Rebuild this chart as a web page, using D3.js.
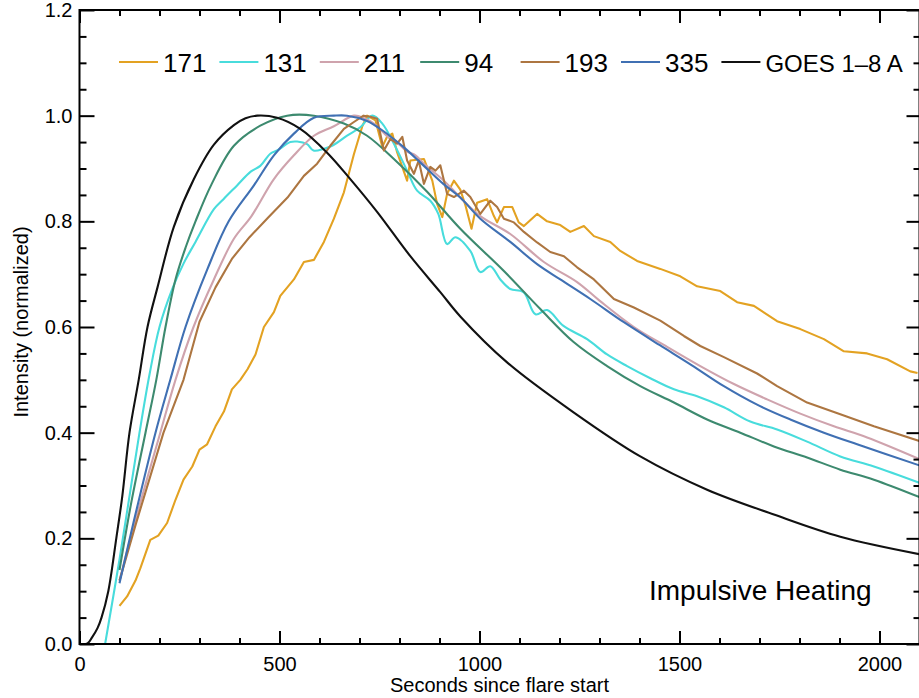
<!DOCTYPE html>
<html>
<head>
<meta charset="utf-8">
<script src="https://cdn.jsdelivr.net/npm/d3@7"></script>
<style>
  body { margin: 0; background: #fff; }
  svg { display: block; font-family: "Liberation Sans", Arial, Helvetica, sans-serif; }
</style>
</head>
<body>
<svg id="chart" width="919" height="698"></svg>
<script>
// Light curves, [seconds since flare start, normalized intensity]
const s171 = [[100,.072],[119,.09],[140,.12],[152,.143],[177,.197],[197,.205],[219,.229],[240,.273],[260,.311],[282,.336],
  [300,.368],[319,.378],[340,.412],[361,.44],[381,.482],[402,.50],[420,.52],[440,.548],[461,.60],[486,.628],
  [502,.659],[536,.69],[561,.723],[586,.727],[611,.761],[636,.805],[661,.855],[686,.927],[707,.98],[719,1.0],
  [740,.991],[757,.941],[769,.96],[782,.966],[794,.931],[819,.877],[827,.915],[861,.918],[882,.877],[894,.833],
  [907,.808],[919,.852],[936,.877],[952,.86],[965,.83],[980,.786],[994,.835],[1019,.842],[1036,.81],[1044,.798],
  [1061,.827],[1082,.827],[1098,.798],[1111,.791],[1144,.814],[1169,.80],[1202,.793],[1227,.78],[1261,.791],[1286,.772],
  [1327,.761],[1352,.744],[1394,.725],[1452,.71],[1502,.696],[1544,.677],[1602,.668],[1644,.647],[1686,.64],[1744,.611],
  [1802,.596],[1861,.577],[1911,.554],[1969,.55],[2019,.539],[2077,.516],[2095,.513]];

const s131 = [[64,0],[100,.16],[125,.28],[150,.40],[175,.51],[200,.60],[232,.672],[260,.72],[290,.761],[336,.823],
  [360,.842],[394,.868],[428,.894],[452,.905],[477,.928],[494,.934],[527,.95],[544,.951],[569,.946],[585,.934],
  [610,.937],[634,.944],[669,.962],[702,.978],[732,1.0],[757,.985],[786,.947],[819,.896],[844,.858],[877,.839],
  [897,.814],[919,.757],[940,.77],[977,.744],[1002,.704],[1027,.715],[1052,.69],[1077,.672],[1110,.666],[1140,.624],
  [1169,.632],[1210,.602],[1269,.577],[1319,.548],[1369,.526],[1427,.503],[1486,.482],[1544,.469],[1611,.448],[1677,.421],
  [1744,.406],[1819,.383],[1902,.355],[1986,.336],[2100,.305]];

const s211 = [[100,.12],[140,.235],[202,.40],[240,.5],[285,.60],[336,.69],[386,.767],[430,.81],[486,.88],[536,.925],
  [586,.962],[636,.98],[686,1.0],[712,.995],[736,.985],[757,.97],[777,.956],[800,.945],[819,.932],[840,.925],
  [861,.909],[911,.877],[952,.845],[1002,.81],[1077,.776],[1161,.723],[1244,.685],[1300,.65],[1386,.60],[1470,.562],
  [1552,.526],[1636,.492],[1719,.463],[1802,.436],[1886,.412],[1969,.391],[2100,.35]];

const s94 = [[100,.14],[130,.27],[165,.40],[192,.5],[215,.6],[240,.69],[265,.75],[290,.80],[330,.87],[386,.943],
  [452,.981],[519,1.0],[586,1.0],[661,.985],[719,.962],[786,.918],[869,.856],[952,.786],[1061,.706],[1152,.634],
  [1236,.571],[1319,.526],[1402,.488],[1486,.457],[1569,.425],[1652,.40],[1736,.374],[1819,.353],[1902,.33],[1986,.311],
  [2100,.278]];

const s193 = [[100,.12],[140,.225],[210,.40],[260,.5],[300,.61],[340,.675],[382,.73],[425,.77],[470,.806],[520,.845],
  [561,.886],[594,.909],[627,.943],[661,.975],[686,.988],[710,1.0],[727,.998],[744,.994],[761,.934],[777,.956],
  [794,.947],[807,.96],[819,.915],[836,.89],[848,.915],[861,.871],[877,.903],[890,.896],[902,.906],[919,.852],
  [936,.846],[961,.858],[977,.846],[1002,.814],[1027,.839],[1044,.827],[1061,.805],[1086,.798],[1111,.78],[1144,.76],
  [1177,.742],[1211,.734],[1244,.713],[1286,.69],[1336,.653],[1386,.637],[1452,.612],[1511,.583],[1552,.564],[1611,.543],
  [1694,.512],[1744,.488],[1819,.457],[1902,.435],[1986,.412],[2100,.384]];

const s335 = [[100,.115],[135,.23],[190,.40],[227,.5],[265,.60],[320,.71],[373,.80],[436,.868],[486,.925],[536,.966],
  [586,.996],[636,1.0],[669,1.0],[719,.99],[761,.97],[811,.94],[861,.905],[911,.87],[952,.845],[1002,.805],
  [1077,.761],[1144,.719],[1202,.69],[1277,.653],[1361,.609],[1450,.566],[1530,.528],[1611,.488],[1694,.453],[1777,.425],
  [1861,.40],[1944,.378],[2100,.338]];

const sGoes = [[0,0],[20,.001],[31,.012],[45,.03],[55,.05],[72,.10],[92,.2],[107,.28],[125,.40],[148,.5],
  [170,.6],[195,.675],[236,.79],[286,.88],[336,.945],[386,.982],[415,.995],[444,1.0],[494,.996],[552,.975],[619,.93],
  [677,.88],[744,.818],[827,.734],[902,.666],[952,.62],[1069,.533],[1236,.438],[1402,.355],[1569,.292],[1736,.245],
  [1902,.203],[2100,.17]];

const labels = ['171', '131', '211', '94', '193', '335', 'GOES 1\u20138 A'];
const seriesData = [s171, s131, s211, s94, s193, s335, sGoes];
const colors = ['#e3a222', '#48dcdc', '#cfa3ad', '#3d8a6f', '#ad7641', '#4070b3', '#111111'];
const smooth = [false, true, true, true, false, true, true];

const xMajor = [0, 500, 1000, 1500, 2000];
const yMajor = [0, 0.2, 0.4, 0.6, 0.8, 1.0, 1.2];

// Layout
const plotLeft = 79.5, plotRight = 919.5, plotTop = 10, plotBottom = 644;

const svg = d3.select('#chart');

const x = d3.scaleLinear().domain([0, 2100]).range([plotLeft, plotRight]);
const y = d3.scaleLinear().domain([0, 1.2]).range([plotBottom, plotTop]);

const xMinor = d3.range(0, 2101, 100).filter(v => v % 500 !== 0);
const yMinor = d3.range(0, 1.2001, 0.05).map(v => +v.toFixed(2)).filter(v => Math.round(v * 100) % 20 !== 0);

// Clip for curves
svg.append('clipPath').attr('id', 'plotClip')
  .append('rect')
  .attr('x', plotLeft).attr('y', plotTop)
  .attr('width', plotRight - plotLeft).attr('height', plotBottom - plotTop);

// Curves
const curves = svg.append('g').attr('clip-path', 'url(#plotClip)');
seriesData.forEach((data, i) => {
  const line = d3.line()
    .x(d => x(d[0]))
    .y(d => y(d[1]))
    .curve(smooth[i] ? d3.curveCatmullRom.alpha(0.5) : d3.curveLinear);
  curves.append('path')
    .datum(data)
    .attr('d', line)
    .attr('fill', 'none')
    .attr('stroke', colors[i])
    .attr('stroke-width', 2.1)
    .attr('stroke-linejoin', 'round');
});

// Axes (ticks point inward)
function styleAxis(g, fontSize) {
  g.select('.domain').remove();
  g.selectAll('.tick line').attr('stroke', '#000').attr('stroke-width', 2);
  g.selectAll('.tick text').attr('fill', '#000').attr('font-size', fontSize)
    .attr('font-family', '"Liberation Sans", Arial, Helvetica, sans-serif');
}

svg.append('g').attr('transform', `translate(0,${plotBottom})`)
  .call(d3.axisBottom(x).tickValues(xMajor).tickSize(-13).tickPadding(13).tickFormat(d3.format('d')))
  .call(g => styleAxis(g, 20));
svg.append('g').attr('transform', `translate(0,${plotBottom})`)
  .call(d3.axisBottom(x).tickValues(xMinor).tickSize(-6).tickFormat(''))
  .call(g => styleAxis(g, 20));
svg.append('g').attr('transform', `translate(0,${plotTop})`)
  .call(d3.axisTop(x).tickValues(xMajor).tickSize(-13).tickFormat(''))
  .call(g => styleAxis(g, 20));
svg.append('g').attr('transform', `translate(0,${plotTop})`)
  .call(d3.axisTop(x).tickValues(xMinor).tickSize(-6).tickFormat(''))
  .call(g => styleAxis(g, 20));

svg.append('g').attr('transform', `translate(${plotLeft},0)`)
  .call(d3.axisLeft(y).tickValues(yMajor).tickSize(-15).tickPadding(7).tickFormat(d3.format('.1f')))
  .call(g => styleAxis(g, 20));
svg.append('g').attr('transform', `translate(${plotLeft},0)`)
  .call(d3.axisLeft(y).tickValues(yMinor).tickSize(-7).tickFormat(''))
  .call(g => styleAxis(g, 20));
svg.append('g').attr('transform', `translate(${plotRight},0)`)
  .call(d3.axisRight(y).tickValues(yMajor).tickSize(-13).tickFormat(''))
  .call(g => styleAxis(g, 20));
svg.append('g').attr('transform', `translate(${plotRight},0)`)
  .call(d3.axisRight(y).tickValues(yMinor).tickSize(-6).tickFormat(''))
  .call(g => styleAxis(g, 20));

// Frame
svg.append('rect')
  .attr('x', plotLeft).attr('y', plotTop)
  .attr('width', plotRight - plotLeft).attr('height', plotBottom - plotTop)
  .attr('fill', 'none').attr('stroke', '#000').attr('stroke-width', 2);

// Axis titles
svg.append('text')
  .attr('x', (plotLeft + plotRight) / 2).attr('y', 692)
  .attr('text-anchor', 'middle').attr('font-size', 20)
  .text('Seconds since flare start');

svg.append('text')
  .attr('transform', 'translate(28,322) rotate(-90)')
  .attr('text-anchor', 'middle').attr('font-size', 20)
  .text('Intensity (normalized)');

// Legend
const legend = svg.append('g');
labels.forEach((lab, i) => {
  const lx = 119 + i * 100.4;
  legend.append('line')
    .attr('x1', lx).attr('x2', lx + 39)
    .attr('y1', 62).attr('y2', 62)
    .attr('stroke', colors[i]).attr('stroke-width', 2.2);
  legend.append('text')
    .attr('x', lx + 44).attr('y', 72)
    .attr('font-size', i === 6 ? 24 : 26)
    .attr('fill', '#000')
    .text(lab);
});

// Annotation
svg.append('text')
  .attr('x', 649).attr('y', 600)
  .attr('font-size', 28)
  .text('Impulsive Heating');
</script>
</body>
</html>
